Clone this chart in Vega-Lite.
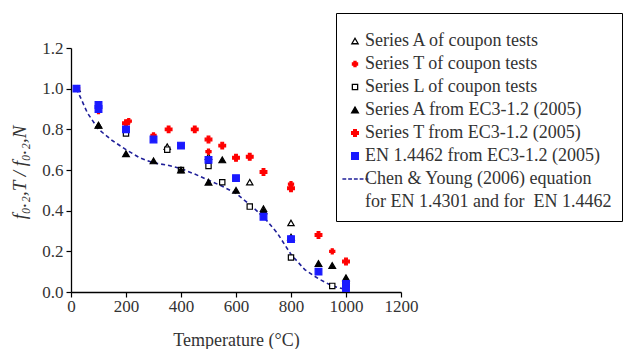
{
  "$schema": "https://vega.github.io/schema/vega-lite/v6.json",
  "autosize": "none",
  "padding": {"left": 71, "top": 48, "right": 237, "bottom": 57},
  "width": 330,
  "height": 244,
  "background": "white",
  "config": {
    "view": {"stroke": null},
    "font": "Times New Roman",
    "axis": {"grid": false, "domainColor": "#000", "domainWidth": 1.3, "tickColor": "#000", "tickWidth": 1.2, "labelFont": "Times New Roman", "labelFontSize": 17, "labelColor": "#333", "titleFont": "Times New Roman", "titleFontWeight": "normal", "titleColor": "#333", "labelFlush": false},
    "legend": {"labelFont": "Times New Roman", "titleFont": "Times New Roman"}
  },
  "datasets": {
    "pts": [
      {"T": 22, "v": 1.0, "s": "Series A of coupon tests"},
      {"T": 100, "v": 0.82, "s": "Series A of coupon tests"},
      {"T": 350, "v": 0.715, "s": "Series A of coupon tests"},
      {"T": 500, "v": 0.665, "s": "Series A of coupon tests"},
      {"T": 650, "v": 0.54, "s": "Series A of coupon tests"},
      {"T": 700, "v": 0.41, "s": "Series A of coupon tests"},
      {"T": 800, "v": 0.34, "s": "Series A of coupon tests"},
      {"T": 1000, "v": 0.06, "s": "Series A of coupon tests"},

      {"T": 22, "v": 1.0, "s": "Series T of coupon tests"},
      {"T": 100, "v": 0.89, "s": "Series T of coupon tests"},
      {"T": 210, "v": 0.84, "s": "Series T of coupon tests"},
      {"T": 300, "v": 0.77, "s": "Series T of coupon tests"},
      {"T": 400, "v": 0.72, "s": "Series T of coupon tests"},
      {"T": 500, "v": 0.69, "s": "Series T of coupon tests"},
      {"T": 800, "v": 0.53, "s": "Series T of coupon tests"},
      {"T": 950, "v": 0.20, "s": "Series T of coupon tests"},

      {"T": 200, "v": 0.78, "s": "Series L of coupon tests"},
      {"T": 350, "v": 0.70, "s": "Series L of coupon tests"},
      {"T": 400, "v": 0.60, "s": "Series L of coupon tests"},
      {"T": 500, "v": 0.62, "s": "Series L of coupon tests"},
      {"T": 550, "v": 0.54, "s": "Series L of coupon tests"},
      {"T": 650, "v": 0.42, "s": "Series L of coupon tests"},
      {"T": 800, "v": 0.17, "s": "Series L of coupon tests"},
      {"T": 950, "v": 0.03, "s": "Series L of coupon tests"},

      {"T": 100, "v": 0.82, "s": "Series A from EC3-1.2 (2005)"},
      {"T": 200, "v": 0.68, "s": "Series A from EC3-1.2 (2005)"},
      {"T": 300, "v": 0.645, "s": "Series A from EC3-1.2 (2005)"},
      {"T": 400, "v": 0.60, "s": "Series A from EC3-1.2 (2005)"},
      {"T": 500, "v": 0.54, "s": "Series A from EC3-1.2 (2005)"},
      {"T": 550, "v": 0.65, "s": "Series A from EC3-1.2 (2005)"},
      {"T": 600, "v": 0.50, "s": "Series A from EC3-1.2 (2005)"},
      {"T": 700, "v": 0.40, "s": "Series A from EC3-1.2 (2005)"},
      {"T": 800, "v": 0.27, "s": "Series A from EC3-1.2 (2005)"},
      {"T": 900, "v": 0.14, "s": "Series A from EC3-1.2 (2005)"},
      {"T": 950, "v": 0.13, "s": "Series A from EC3-1.2 (2005)"},
      {"T": 1000, "v": 0.07, "s": "Series A from EC3-1.2 (2005)"},

      {"T": 200, "v": 0.83, "s": "Series T from EC3-1.2 (2005)"},
      {"T": 355, "v": 0.80, "s": "Series T from EC3-1.2 (2005)"},
      {"T": 450, "v": 0.80, "s": "Series T from EC3-1.2 (2005)"},
      {"T": 500, "v": 0.75, "s": "Series T from EC3-1.2 (2005)"},
      {"T": 550, "v": 0.72, "s": "Series T from EC3-1.2 (2005)"},
      {"T": 600, "v": 0.66, "s": "Series T from EC3-1.2 (2005)"},
      {"T": 650, "v": 0.665, "s": "Series T from EC3-1.2 (2005)"},
      {"T": 700, "v": 0.59, "s": "Series T from EC3-1.2 (2005)"},
      {"T": 800, "v": 0.51, "s": "Series T from EC3-1.2 (2005)"},
      {"T": 900, "v": 0.28, "s": "Series T from EC3-1.2 (2005)"},
      {"T": 1000, "v": 0.15, "s": "Series T from EC3-1.2 (2005)"},

      {"T": 20, "v": 1.0, "s": "EN 1.4462 from EC3-1.2 (2005)"},
      {"T": 100, "v": 0.92, "s": "EN 1.4462 from EC3-1.2 (2005)"},
      {"T": 100, "v": 0.90, "s": "EN 1.4462 from EC3-1.2 (2005)"},
      {"T": 200, "v": 0.80, "s": "EN 1.4462 from EC3-1.2 (2005)"},
      {"T": 300, "v": 0.75, "s": "EN 1.4462 from EC3-1.2 (2005)"},
      {"T": 400, "v": 0.72, "s": "EN 1.4462 from EC3-1.2 (2005)"},
      {"T": 500, "v": 0.65, "s": "EN 1.4462 from EC3-1.2 (2005)"},
      {"T": 600, "v": 0.56, "s": "EN 1.4462 from EC3-1.2 (2005)"},
      {"T": 700, "v": 0.37, "s": "EN 1.4462 from EC3-1.2 (2005)"},
      {"T": 800, "v": 0.26, "s": "EN 1.4462 from EC3-1.2 (2005)"},
      {"T": 900, "v": 0.10, "s": "EN 1.4462 from EC3-1.2 (2005)"},
      {"T": 1000, "v": 0.04, "s": "EN 1.4462 from EC3-1.2 (2005)"},
      {"T": 1000, "v": 0.02, "s": "EN 1.4462 from EC3-1.2 (2005)"}
    ],
    "curve": [
      {"T": 20, "v": 1.0}, {"T": 60, "v": 0.88}, {"T": 100, "v": 0.80}, {"T": 150, "v": 0.745},
      {"T": 200, "v": 0.70}, {"T": 250, "v": 0.66}, {"T": 300, "v": 0.635}, {"T": 350, "v": 0.624},
      {"T": 400, "v": 0.607}, {"T": 450, "v": 0.58}, {"T": 500, "v": 0.55}, {"T": 550, "v": 0.52},
      {"T": 600, "v": 0.485}, {"T": 650, "v": 0.43}, {"T": 700, "v": 0.37}, {"T": 750, "v": 0.29},
      {"T": 800, "v": 0.185}, {"T": 850, "v": 0.11}, {"T": 900, "v": 0.065}, {"T": 950, "v": 0.03},
      {"T": 1000, "v": 0.012}
    ]
  },
  "layer": [
    {
      "data": {"name": "curve"},
      "mark": {"type": "line", "color": "#1f1f99", "strokeWidth": 1.6, "strokeDash": [4, 3]},
      "encoding": {
        "x": {"field": "T", "type": "quantitative", "scale": {"domain": [0, 1200], "nice": false},
          "axis": {"values": [0,100,200,300,400,500,600,700,800,900,1000,1100,1200],
            "labelExpr": "datum.value % 200 == 0 ? format(datum.value, 'd') : ''",
            "tickSize": {"condition": {"test": "datum.value % 200 == 0", "value": 5}, "value": 3},
            "labelFont": "Times New Roman", "titleFont": "Times New Roman", "labelFlush": false, "labelOverlap": false,
            "title": "Temperature  (°C)", "titleFontSize": 18, "titleX": 165, "titleY": 48, "titleBaseline": "middle", "labelPadding": 1}},
        "y": {"field": "v", "type": "quantitative", "scale": {"domain": [0, 1.2], "nice": false},
          "axis": {"values": [0,0.1,0.2,0.3,0.4,0.5,0.6,0.7,0.8,0.9,1.0,1.1,1.2],
            "labelExpr": "round(datum.value*10) % 2 == 0 ? format(datum.value, '.1f') : ''",
            "tickSize": {"condition": {"test": "round(datum.value*10) % 2 == 0", "value": 5}, "value": 3},
            "labelPadding": 3, "labelFont": "Times New Roman", "titleFont": "Times New Roman", "labelFlush": false, "labelOverlap": false,
            "title": "f₀.₂,T / f₀.₂,N", "titleFontStyle": "italic", "titleFontSize": 19, "titleX": -52, "titleY": 124, "titleAngle": -90, "titleBaseline": "middle", "titleAlign": "center"}}
      }
    },
    {
      "data": {"name": "pts"},
      "mark": {"type": "point", "opacity": 1, "strokeWidth": 1.2},
      "encoding": {
        "x": {"field": "T", "type": "quantitative"},
        "y": {"field": "v", "type": "quantitative"},
        "shape": {"field": "s", "type": "nominal",
          "scale": {"domain": ["Series A of coupon tests", "Series T of coupon tests", "Series L of coupon tests", "Series A from EC3-1.2 (2005)", "Series T from EC3-1.2 (2005)", "EN 1.4462 from EC3-1.2 (2005)", "Chen & Young (2006) equation", "for EN 1.4301 and for  EN 1.4462"],
            "range": ["triangle-up", "cross", "square", "triangle-up", "cross", "square", "M-4.6,0H-3.2M-2.5,0H-1.1M-0.4,0H1M1.7,0H3.1M3.8,0H4.9", "M0,0"]},
          "legend": {"orient": "none", "legendX": 265, "legendY": -35, "title": "\u00a0", "titleFontSize": 8, "titlePadding": 1,
            "strokeColor": "#000", "padding": 10, "labelFont": "Times New Roman", "labelFontSize": 18, "labelColor": "#333",
            "labelOffset": 1, "rowPadding": 5, "symbolStrokeWidth": 1.3, "labelLimit": 400,
            "labelExpr": "indexof(datum.label, 'for EN') == 0 ? 'for EN 1.4301 and for\u00a0 EN 1.4462\u2003\u2003\u2003\u2003\u2003\u2003' : datum.label"}},
        "fill": {"field": "s", "type": "nominal",
          "scale": {"domain": ["Series A of coupon tests", "Series T of coupon tests", "Series L of coupon tests", "Series A from EC3-1.2 (2005)", "Series T from EC3-1.2 (2005)", "EN 1.4462 from EC3-1.2 (2005)", "Chen & Young (2006) equation", "for EN 1.4301 and for  EN 1.4462"],
            "range": ["#ffffff", "#ff0000", "#ffffff", "#000000", "#ff0000", "#1a1aff", "transparent", "transparent"]}},
        "stroke": {"field": "s", "type": "nominal",
          "scale": {"domain": ["Series A of coupon tests", "Series T of coupon tests", "Series L of coupon tests", "Series A from EC3-1.2 (2005)", "Series T from EC3-1.2 (2005)", "EN 1.4462 from EC3-1.2 (2005)", "Chen & Young (2006) equation", "for EN 1.4301 and for  EN 1.4462"],
            "range": ["#000000", "#ff0000", "#000000", "#000000", "#ff0000", "#1a1aff", "#1f1f99", "transparent"]}},
        "size": {"field": "s", "type": "nominal",
          "scale": {"type": "ordinal", "domain": ["Series A of coupon tests", "Series T of coupon tests", "Series L of coupon tests", "Series A from EC3-1.2 (2005)", "Series T from EC3-1.2 (2005)", "EN 1.4462 from EC3-1.2 (2005)", "Chen & Young (2006) equation", "for EN 1.4301 and for  EN 1.4462"],
            "range": [40, 26, 28, 45, 45, 45, 30, 30]}}
      }
    }
  ]
}
